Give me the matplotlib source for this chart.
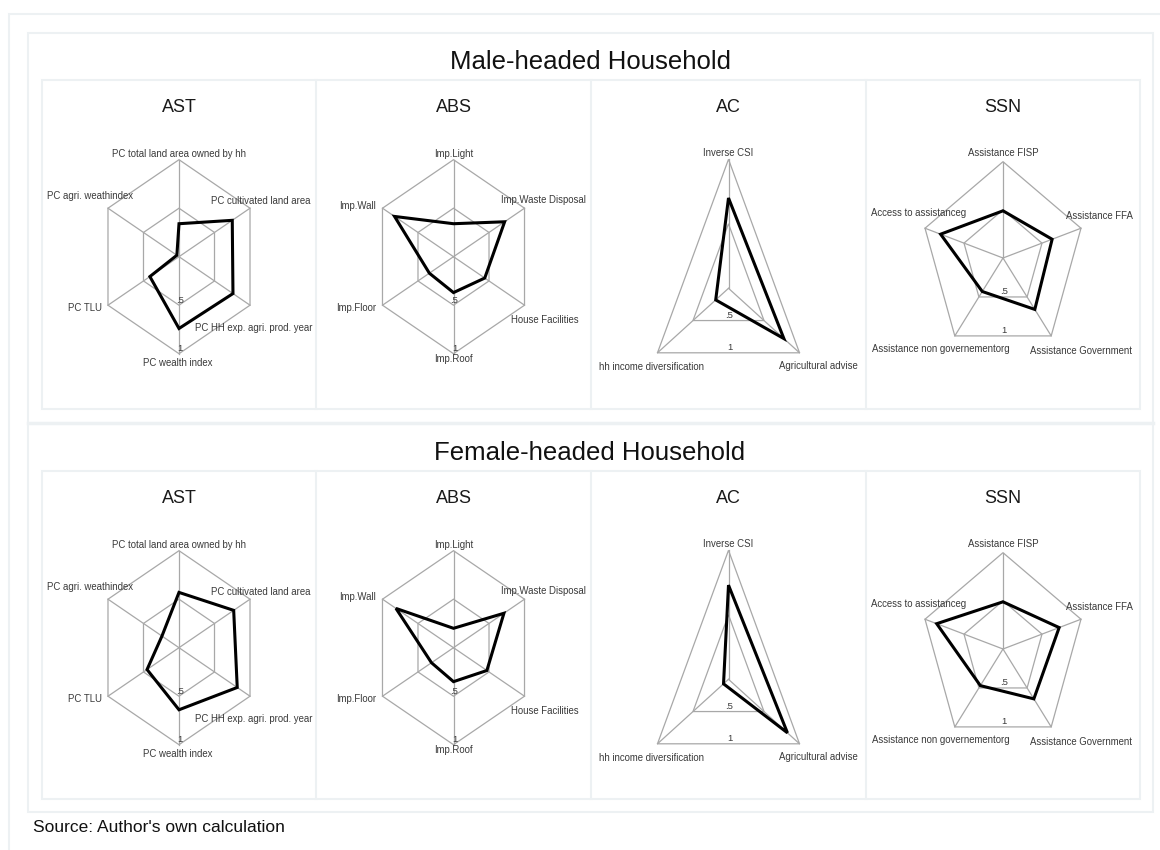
import numpy as np
import matplotlib
matplotlib.use("Agg")
import matplotlib.pyplot as plt
from matplotlib.patches import Rectangle, Polygon
from matplotlib.lines import Line2D

plt.rcParams['font.family'] = ['Liberation Sans', 'DejaVu Sans']

# ---------------- data ----------------
group_titles = ["Male-headed Household", "Female-headed Household"]
panel_titles = ["AST", "ABS", "AC", "SSN"]

ast_labels = ["PC total land area owned by hh", "PC cultivated land area",
              "PC HH exp. agri. prod. year", "PC wealth index", "PC TLU",
              "PC agri. weathindex"]
abs_labels = ["Imp.Light", "Imp.Waste Disposal", "House Facilities",
              "Imp.Roof", "Imp.Floor", "Imp.Wall"]
ac_labels = ["Inverse CSI", "Agricultural advise", "hh income diversification"]
ssn_labels = ["Assistance FISP", "Assistance FFA", "Assistance Government",
              "Assistance non governementorg", "Access to assistanceg"]

male_ast = [0.34, 0.75, 0.76, 0.74, 0.41, 0.03]
male_abs = [0.34, 0.72, 0.44, 0.37, 0.34, 0.83]
male_ac = [0.70, 0.78, 0.18]
male_ssn = [0.49, 0.63, 0.66, 0.43, 0.80]

female_ast = [0.57, 0.77, 0.82, 0.64, 0.45, 0.24]
female_abs = [0.20, 0.71, 0.47, 0.35, 0.31, 0.81]
female_ac = [0.73, 0.83, 0.07]
female_ssn = [0.49, 0.72, 0.64, 0.47, 0.85]

ring_levels = [0.5, 1.0]
ring_labels = [".5", "1"]
source_text = "Source: Author's own calculation"

# ---------------- layout (pixels) ----------------
W, H = 1160, 850
fig = plt.figure(figsize=(W / 100, H / 100), dpi=100)
fig.patch.set_facecolor("white")

BORDER = "#edf1f3"

def px_rect(x0, y0, x1, y1, lw=1.5, color=BORDER):
    r = Rectangle((x0 / W, 1 - y1 / H), (x1 - x0) / W, (y1 - y0) / H,
                  transform=fig.transFigure, fill=False, edgecolor=color,
                  linewidth=lw)
    fig.add_artist(r)

def px_hline(x0, x1, y, lw=1.5, color=BORDER):
    fig.add_artist(Line2D([x0 / W, x1 / W], [1 - y / H, 1 - y / H],
                          transform=fig.transFigure, color=color, linewidth=lw))

def px_vline(x, y0, y1, lw=1.5, color=BORDER):
    fig.add_artist(Line2D([x / W, x / W], [1 - y0 / H, 1 - y1 / H],
                          transform=fig.transFigure, color=color, linewidth=lw))

# outer frames
px_rect(9, 14, 1175, 870)
px_rect(28, 33, 1153, 812)
px_hline(28, 1153, 423, lw=2.5)

panel_x = [42, 316, 591, 866, 1140]
group_y = [(80, 409), (471, 799)]
group_title_y = [62, 453]
for (y0, y1) in group_y:
    px_rect(panel_x[0], y0, panel_x[-1], y1)
    for xx in panel_x[1:-1]:
        px_vline(xx, y0, y1)

for gt, ty in zip(group_titles, group_title_y):
    fig.text(590 / W, 1 - ty / H, gt, ha="center", va="center",
             fontsize=18.5, color="#111111")

fig.text(33 / W, 1 - 827 / H, source_text, ha="left", va="center",
         fontsize=12.5, color="#111111")

# radar geometry per panel: (center-y offset in panel, sy px, label offsets)
SX = 82.0
geom = {
    "AST": dict(cy=176.7, sy=97.0,
                offs=[(0, -102.7), (82, -56), (75, 71), (-1.5, 106),
                      (-93.5, 51), (-89, -61)]),
    "ABS": dict(cy=176.7, sy=97.0,
                offs=[(0, -102.7), (90, -57), (91, 63), (0, 102.5),
                      (-97, 51.5), (-96, -50.5)]),
    "AC": dict(cy=208.3, sy=129.0,
               offs=[(0, -135.6), (90, 78), (-77, 79)]),
    "SSN": dict(cy=178.0, sy=96.3,
                offs=[(0, -104.7), (96, -42), (78, 93), (-62, 91),
                      (-84, -45)]),
}

labels_all = [ast_labels, abs_labels, ac_labels, ssn_labels]
values_all = [[male_ast, male_abs, male_ac, male_ssn],
              [female_ast, female_abs, female_ac, female_ssn]]

GRID = "#a8a8a8"
LABC = "#3a3a3a"

for g, (y0, y1) in enumerate(group_y):
    for p, name in enumerate(panel_titles):
        pcx = (panel_x[p] + panel_x[p + 1]) / 2
        gm = geom[name]
        cy = y0 + gm["cy"]
        sy = gm["sy"]
        # panel title
        fig.text(pcx / W, 1 - (y0 + 27) / H, name, ha="center", va="center",
                 fontsize=13, color="#1a1a1a")
        ax = fig.add_axes([(pcx - SX) / W, (H - (cy + sy)) / H,
                           2 * SX / W, 2 * sy / H])
        ax.set_xlim(-1, 1)
        ax.set_ylim(-1, 1)
        ax.axis("off")
        labs = labels_all[p]
        vals = values_all[g][p]
        n = len(labs)
        theta = np.deg2rad(90 - np.arange(n) * 360.0 / n)
        cx_u, sy_u = np.cos(theta), np.sin(theta)
        # rings
        for lev in ring_levels:
            ax.add_patch(Polygon(np.column_stack([lev * cx_u, lev * sy_u]),
                                 closed=True, fill=False, edgecolor=GRID,
                                 linewidth=0.9, clip_on=False))
        # spokes
        for k in range(n):
            ax.plot([0, cx_u[k]], [0, sy_u[k]], color=GRID, linewidth=0.9,
                    clip_on=False)
        # data
        v = np.asarray(vals)
        ax.add_patch(Polygon(np.column_stack([v * cx_u, v * sy_u]),
                             closed=True, fill=False, edgecolor="black",
                             linewidth=2.2, joinstyle="miter", clip_on=False,
                             zorder=5))
        # ring value labels
        ymin = sy_u.min()
        for lev, rl in zip(ring_levels, ring_labels):
            ax.annotate(rl, xy=(0, lev * ymin), xytext=(1, 0.5),
                        textcoords="offset pixels", ha="center", va="bottom",
                        fontsize=6.8, color=LABC, zorder=6)
        # axis labels
        for k, lab in enumerate(labs):
            dx, dy = gm["offs"][k]
            ax.annotate(lab, xy=(0, 0), xytext=(dx, -dy),
                        textcoords="offset pixels", ha="center", va="center",
                        fontsize=6.9, color=LABC, zorder=6)

fig.savefig("out.png", dpi=100)
